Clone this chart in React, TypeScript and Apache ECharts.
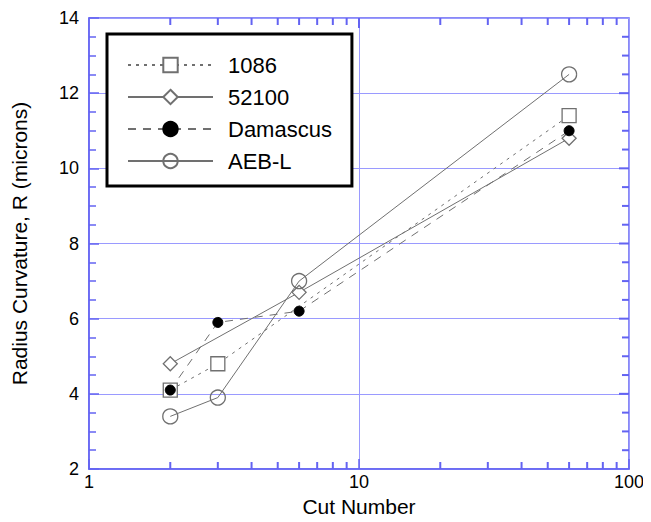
import React, { useEffect, useRef } from "react";
import * as echarts from "echarts";

const cutNumbers1086 = [2, 3, 60];
const values1086 = [4.1, 4.8, 11.4];
const cutNumbers52100 = [2, 6, 60];
const values52100 = [4.8, 6.7, 10.8];
const cutNumbersDamascus = [2, 3, 6, 60];
const valuesDamascus = [4.1, 5.9, 6.2, 11.0];
const cutNumbersAEBL = [2, 3, 6, 60];
const valuesAEBL = [3.4, 3.9, 7.0, 12.5];

// tick values of the frame
const xMajorTicks = [10];
const xMinorTicks = [2, 3, 4, 5, 6, 7, 8, 9, 20, 30, 40, 50, 60, 70, 80, 90];
const yMajorTicks = [4, 6, 8, 10, 12];
const yMinorTicks = [2.5, 3, 3.5, 4.5, 5, 5.5, 6.5, 7, 7.5, 8.5, 9, 9.5, 10.5, 11, 11.5, 12.5, 13, 13.5];
const xMin = 1;
const xMax = 100;
const yMin = 2;
const yMax = 14;

const FONT = "Liberation Sans, Arial, sans-serif";
const AXIS_BLUE = "#6363f2";
const GRID_BLUE = "#9a9aff";
const GRAY = "#707070";

const pairs = (xs: number[], ys: number[]) => xs.map((x, i) => [x, ys[i]]);

export default function App() {
  const ref = useRef<HTMLDivElement>(null);
  useEffect(() => {
    if (!ref.current) return;
    const chart = echarts.init(ref.current, undefined, { renderer: "svg" });
    const tickSeries = (data: number[][], dx: number, dy: number) => ({
      type: "custom",
      silent: true,
      clip: false,
      z: 5,
      data,
      renderItem: (_p: any, api: any) => {
        const pt = api.coord([api.value(0), api.value(1)]);
        return {
          type: "line",
          shape: { x1: pt[0], y1: pt[1], x2: pt[0] + dx, y2: pt[1] + dy },
          style: { stroke: AXIS_BLUE, lineWidth: 2, opacity: 1 },
        };
      },
    });
    chart.setOption({
      animation: false,
      backgroundColor: "#fff",
      tooltip: { show: false },
      grid: {
        left: 89,
        right: 22,
        top: 18,
        bottom: 50,
        containLabel: false,
        show: true,
        borderColor: AXIS_BLUE,
        borderWidth: 1.5,
        backgroundColor: "transparent",
      },
      legend: {
        orient: "vertical",
        left: 107,
        top: 34,
        padding: [20, 20, 14, 20],
        itemWidth: 85,
        itemHeight: 18,
        itemGap: 10,
        borderColor: "#000",
        borderWidth: 3,
        backgroundColor: "#fff",
        selectedMode: false,
        z: 10,
        textStyle: { fontSize: 22, color: "#000", fontFamily: FONT, padding: [0, 0, 0, 10] },
        data: ["1086", "52100", "Damascus", "AEB-L"],
      },
      xAxis: {
        type: "log",
        logBase: 10,
        min: xMin,
        max: xMax,
        position: "bottom",
        axisPointer: { show: false },
        axisLine: { show: true, onZero: false, lineStyle: { color: AXIS_BLUE, width: 1.5 } },
        axisTick: { show: true, inside: true, length: 10, lineStyle: { color: AXIS_BLUE, width: 1.5 } },
        minorTick: { show: false },
        minorSplitLine: { show: false },
        splitLine: { show: true, lineStyle: { color: GRID_BLUE, width: 1, opacity: 1 } },
        axisLabel: { fontSize: 18, color: "#000", fontFamily: FONT, margin: 4 },
        name: "Cut Number",
        nameLocation: "middle",
        nameGap: 27,
        nameTextStyle: { fontSize: 21, color: "#000", fontFamily: FONT },
      },
      yAxis: {
        type: "value",
        min: yMin,
        max: yMax,
        interval: 2,
        position: "left",
        axisPointer: { show: false },
        axisLine: { show: true, onZero: false, lineStyle: { color: AXIS_BLUE, width: 1.5 } },
        axisTick: { show: true, inside: true, length: 10, lineStyle: { color: AXIS_BLUE, width: 1.5 } },
        minorTick: { show: true, splitNumber: 4, length: 7, lineStyle: { color: AXIS_BLUE, width: 1.5 } },
        minorSplitLine: { show: false },
        splitLine: { show: true, lineStyle: { color: GRID_BLUE, width: 1, opacity: 1 } },
        axisLabel: { fontSize: 18, color: "#000", fontFamily: FONT, margin: 10 },
        name: "Radius Curvature, R (microns)",
        nameLocation: "middle",
        nameRotate: 90,
        nameGap: 59,
        nameTextStyle: { fontSize: 21, color: "#000", fontFamily: FONT },
      },
      series: [
        tickSeries(xMinorTicks.map((x) => [x, yMin]), 0, -7),
        tickSeries(xMinorTicks.map((x) => [x, yMax]), 0, 7),
        tickSeries(xMajorTicks.map((x) => [x, yMax]), 0, 10),
        tickSeries(yMinorTicks.map((y) => [xMax, y]), -7, 0),
        tickSeries(yMajorTicks.map((y) => [xMax, y]), -10, 0),
        {
          name: "1086",
          type: "line",
          z: 3,
          data: pairs(cutNumbers1086, values1086),
          symbol: "rect",
          symbolSize: 14,
          lineStyle: { color: GRAY, width: 1, type: [3, 5] },
          itemStyle: { color: "#fff", borderColor: GRAY, borderWidth: 1.3 },
        },
        {
          name: "52100",
          type: "line",
          z: 3,
          data: pairs(cutNumbers52100, values52100),
          symbol: "diamond",
          symbolSize: 14,
          lineStyle: { color: GRAY, width: 1, type: "solid" },
          itemStyle: { color: "#fff", borderColor: GRAY, borderWidth: 1.3 },
        },
        {
          name: "Damascus",
          type: "line",
          z: 3,
          data: pairs(cutNumbersDamascus, valuesDamascus),
          symbol: "circle",
          symbolSize: 10,
          lineStyle: { color: GRAY, width: 1, type: [8, 7] },
          itemStyle: { color: "#000", borderColor: "#000", borderWidth: 1 },
        },
        {
          name: "AEB-L",
          type: "line",
          z: 3,
          data: pairs(cutNumbersAEBL, valuesAEBL),
          symbol: "circle",
          symbolSize: 15,
          lineStyle: { color: GRAY, width: 1, type: "solid" },
          itemStyle: { color: "rgba(255,255,255,0)", borderColor: GRAY, borderWidth: 1.3 },
        },
      ],
    });
    return () => chart.dispose();
  }, []);
  return <div ref={ref} style={{ width: 651, height: 522, margin: -8 }} />;
}
